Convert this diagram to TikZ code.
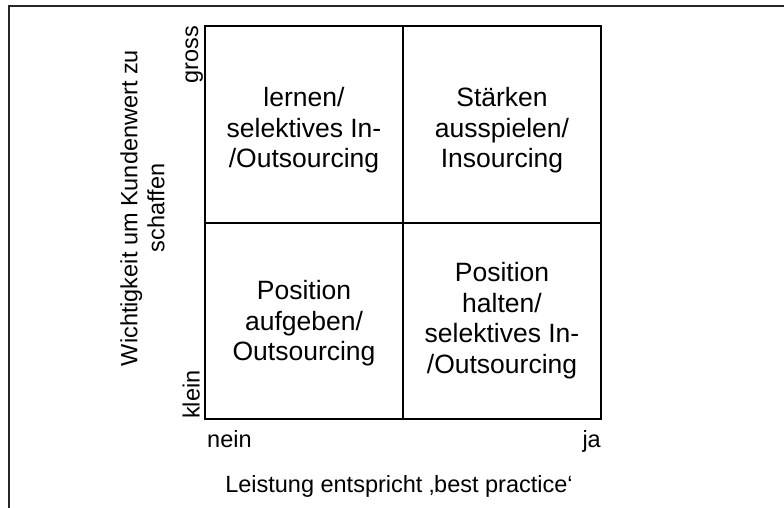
\documentclass[tikz,border=0pt]{standalone}
\usepackage{fontspec}
\setmainfont{Liberation Sans}
\begin{document}
\begin{tikzpicture}[x=1pt,y=-1pt,
  gridline/.style={line width=1.6pt,black},
  frameline/.style={line width=1.3pt,black!85},
  celltext/.style={align=center,inner sep=0pt,font=\fontsize{26.5}{30.5}\selectfont},
  axistext/.style={inner sep=0pt,font=\fontsize{23.5}{27}\selectfont}]
\useasboundingbox (0,0) rectangle (784,508);
% outer frame (partly outside the picture)
\coordinate (f1) at (9,6);
\coordinate (f2) at (800,6);
\coordinate (f3) at (9,520);
\draw[frameline] (f2) -- (f1) -- (f3);
% grid
\coordinate (tl) at (205,26);
\coordinate (br) at (601,419);
\coordinate (mt) at (403,26);
\coordinate (mb) at (403,419);
\coordinate (ml) at (205,223);
\coordinate (mr) at (601,223);
\draw[gridline] (tl) rectangle (br);
\draw[gridline] (mt) -- (mb);
\draw[gridline] (ml) -- (mr);
% cell texts
\node[celltext] (c11) at (304,130.5) {lernen/\\selektives In-\\/Outsourcing};
\node[celltext] (c12) at (502,130.5) {Stärken\\ausspielen/\\Insourcing};
\node[celltext] (c21) at (304,323.5) {Position\\aufgeben/\\Outsourcing};
\node[celltext] (c22) at (502,320.5) {Position\\halten/\\selektives In-\\/Outsourcing};
% axis labels
\node[axistext,rotate=90,anchor=base east] (gross) at (198,26) {gross};
\node[axistext,rotate=90,anchor=base west] (klein) at (199.5,419) {klein};
\node[axistext,anchor=base west] (nein) at (207,447) {nein};
\node[axistext,anchor=base east] (ja) at (601,447) {ja};
\node[axistext,anchor=base] (xlab) at (399,492) {Leistung entspricht ‚best practice‘};
\node[axistext,rotate=90,align=center] (ylab) at (142.5,208) {Wichtigkeit um Kundenwert zu\\schaffen};
\end{tikzpicture}
\end{document}
